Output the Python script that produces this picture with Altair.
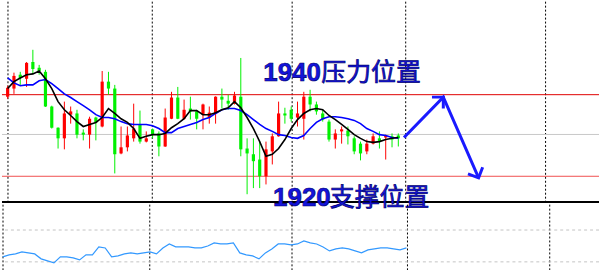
import altair as alt
import numpy as np
import pandas as pd

# ---------------- data ----------------
opens = [1939.5, 1941.5, 1944.9, 1943.9, 1948.0, 1946.6, 1945.6, 1937.1, 1931.9, 1929.3,
         1935.1, 1935.4, 1930.7, 1930.2, 1934.4, 1932.2, 1943.2, 1941.5, 1925.6, 1927.1,
         1929.3, 1932.7, 1928.5, 1931.5, 1930.5, 1927.3, 1934.1, 1939.3, 1934.1, 1936.6,
         1935.9, 1935.1, 1934.4, 1935.4, 1939.5, 1938.5, 1937.8, 1939.5, 1926.8, 1925.4,
         1924.1, 1920.0, 1926.1, 1929.8, 1935.4, 1936.3, 1934.4, 1934.1, 1939.5, 1937.6,
         1935.4, 1933.4, 1929.0, 1931.0, 1931.2, 1929.3, 1928.0, 1926.1, 1928.0, 1929.3,
         1929.5, 1929.8, 1930.0]
highs = [1942.2, 1945.4, 1945.6, 1948.0, 1951.0, 1947.3, 1946.1, 1937.3, 1932.0, 1938.3,
         1937.1, 1936.3, 1931.5, 1934.6, 1934.6, 1945.8, 1945.6, 1942.4, 1932.2, 1932.2,
         1937.8, 1936.1, 1931.0, 1931.7, 1931.0, 1936.6, 1940.7, 1941.9, 1938.8, 1939.5,
         1936.3, 1937.8, 1937.1, 1939.6, 1941.5, 1940.0, 1940.7, 1949.0, 1929.3, 1929.3,
         1928.5, 1928.5, 1930.5, 1938.3, 1936.8, 1937.1, 1938.3, 1940.7, 1941.2, 1938.3,
         1936.3, 1933.9, 1931.5, 1932.2, 1932.2, 1929.8, 1928.5, 1929.0, 1930.5, 1931.0,
         1930.2, 1930.5, 1930.5]
lows = [1939.0, 1940.2, 1942.4, 1941.9, 1945.1, 1944.9, 1937.0, 1931.7, 1926.8, 1926.6,
        1932.9, 1929.3, 1928.8, 1926.8, 1928.8, 1932.0, 1940.0, 1920.7, 1925.4, 1926.1,
        1928.5, 1928.0, 1928.3, 1929.3, 1924.9, 1927.2, 1934.0, 1934.0, 1933.9, 1933.9,
        1931.5, 1931.5, 1932.9, 1932.9, 1936.6, 1936.3, 1937.6, 1924.9, 1915.6, 1917.1,
        1917.1, 1918.0, 1922.9, 1929.7, 1932.9, 1933.4, 1932.2, 1929.0, 1935.9, 1935.1,
        1933.4, 1928.5, 1926.8, 1928.0, 1927.8, 1925.4, 1923.9, 1925.4, 1927.8, 1926.8,
        1924.1, 1927.1, 1927.3]
closes = [1941.7, 1944.6, 1944.1, 1947.8, 1946.3, 1945.8, 1937.1, 1931.9, 1929.3, 1935.4,
          1935.9, 1930.2, 1930.2, 1934.1, 1933.2, 1943.2, 1941.5, 1925.4, 1927.1, 1930.0,
          1931.7, 1928.5, 1929.3, 1930.2, 1927.3, 1934.4, 1939.3, 1934.1, 1936.3, 1935.9,
          1934.1, 1937.6, 1935.6, 1939.5, 1938.8, 1937.8, 1939.8, 1926.6, 1925.6, 1923.7,
          1920.0, 1926.6, 1929.8, 1935.4, 1934.9, 1934.1, 1935.4, 1939.5, 1937.6, 1935.9,
          1933.9, 1929.0, 1930.5, 1931.5, 1929.8, 1926.1, 1925.6, 1928.0, 1929.8, 1928.5,
          1930.0, 1929.0, 1929.3]
ma_fast = [1941.5, 1943.2, 1944.1, 1944.9, 1945.1, 1945.8, 1943.9, 1941.5, 1938.3, 1936.3,
           1934.9, 1933.4, 1932.2, 1932.7, 1933.2, 1934.4, 1936.6, 1935.4, 1934.1, 1933.2,
           1931.7, 1929.3, 1929.8, 1930.2, 1930.2, 1930.5, 1931.9, 1932.9, 1934.1, 1936.1,
           1936.1, 1935.1, 1935.1, 1935.6, 1936.3, 1936.8, 1938.3, 1936.8, 1934.4, 1931.7,
           1928.5, 1924.9, 1925.4, 1926.8, 1929.0, 1931.7, 1933.9, 1935.4, 1936.3, 1936.6,
           1936.3, 1934.9, 1933.9, 1932.7, 1931.5, 1930.2, 1929.3, 1928.5, 1928.3, 1928.5,
           1929.0, 1929.3, 1929.5]
ma_slow = [1944.1, 1942.9, 1942.2, 1942.4, 1942.4, 1943.4, 1943.7, 1942.7, 1941.5, 1940.2,
           1939.3, 1938.3, 1937.3, 1936.3, 1935.1, 1934.4, 1934.4, 1934.1, 1933.4, 1932.9,
           1932.7, 1932.7, 1932.7, 1932.4, 1931.7, 1930.7, 1930.7, 1931.7, 1932.2, 1932.7,
           1933.2, 1933.9, 1934.4, 1935.4, 1936.3, 1936.6, 1936.6, 1936.1, 1935.1, 1933.9,
           1932.7, 1931.7, 1931.0, 1930.2, 1930.0, 1929.5, 1929.3, 1930.0, 1931.7, 1933.2,
           1934.1, 1934.6, 1934.6, 1934.4, 1934.1, 1933.7, 1932.9, 1931.7, 1931.0, 1930.2,
           1930.0, 1929.5, 1929.3]
osc = [36.3, 38.8, 40.0, 42.5, 41.3, 40.0, 33.8, 31.3, 28.8, 36.3,
       36.3, 35.0, 32.5, 38.8, 38.8, 48.8, 47.5, 36.3, 37.5, 40.0,
       41.3, 40.0, 41.3, 42.5, 40.0, 47.5, 52.5, 48.8, 48.8, 48.8,
       47.5, 47.5, 50.0, 53.8, 52.5, 52.5, 53.8, 41.3, 38.8, 37.5,
       33.8, 41.3, 46.3, 52.5, 52.5, 51.3, 52.5, 56.3, 53.8, 52.5,
       48.8, 43.8, 46.3, 47.5, 46.3, 43.8, 41.3, 45.0, 46.3, 47.5,
       47.5, 46.3, 45.0, 47.5]

resistance = 1940.0
support = 1920.0
mid_level = 1930.25
osc_levels = [70, 30]
grid_idx = [0.05, 22.95, 45.15, 63.17, 85.37]

label_digits = ["1940", "1920"]
label_cjk = ["压力位置", "支撑位置"]
label_digit_x = [40.57, 42.13]
label_cjk_x = [49.78, 51.13]
label_y = [1943.4, 1912.75]

arrow_x = [62.9, 69.14, 74.74]
arrow_y = [1929.5, 1939.4, 1919.6]
arrow_head_angle = [45, 156]

X_DOMAIN = [-0.11, 93.06]
Y_DOMAIN = [1913.53, 1962.80]
OSC_DOMAIN = [19.375, 101.875]

# ---------------- frames ----------------
n = len(opens)
o = np.array(opens); c = np.array(closes)
body_lo = np.minimum(o, c)
body_hi = np.maximum(o, c)
body_hi = np.where(body_hi - body_lo < 0.3, body_lo + 0.3, body_hi)
candles = pd.DataFrame({
    "idx": np.arange(n), "open": o, "high": highs, "low": lows, "close": c,
    "body_lo": body_lo, "body_hi": body_hi,
    "dir": np.where(c >= o, "up", "down"),
    "ma_fast": ma_fast, "ma_slow": ma_slow,
})
osc_df = pd.DataFrame({"idx": np.arange(len(osc)), "v": osc})
grid_df = pd.DataFrame({"g": grid_idx})

xs = alt.Scale(domain=X_DOMAIN, nice=False, zero=False)
ys = alt.Scale(domain=Y_DOMAIN, nice=False, zero=False)
os_ = alt.Scale(domain=OSC_DOMAIN, nice=False, zero=False)
cscale = alt.Scale(domain=["up", "down"], range=["#ff0000", "#00f000"])

X = alt.X("idx:Q", scale=xs, axis=None)

grid_top = alt.Chart(grid_df).mark_rule(color="#000000", strokeWidth=1, strokeDash=[2, 2]).encode(
    x=alt.X("g:Q", scale=xs, axis=None))


def hline(level, color, width=1.0, dash=None):
    kw = dict(color=color, strokeWidth=width)
    if dash:
        kw["strokeDash"] = dash
    return alt.Chart(pd.DataFrame({"y": [level]})).mark_rule(**kw).encode(
        y=alt.Y("y:Q", scale=ys, axis=None))


h_res = hline(resistance, "#e00000")
h_mid = hline(mid_level, "#c8c8c8")
h_sup = hline(support, "#f05050")
h_bot = hline(Y_DOMAIN[0] + 0.15, "#000000", 2.0)

wicks = alt.Chart(candles).mark_rule(strokeWidth=1).encode(
    x=X, y=alt.Y("low:Q", scale=ys, axis=None), y2="high:Q",
    color=alt.Color("dir:N", scale=cscale, legend=None))
bodies = alt.Chart(candles).mark_bar(size=3.2, orient="vertical").encode(
    x=X, y=alt.Y("body_lo:Q", scale=ys, axis=None), y2="body_hi:Q",
    color=alt.Color("dir:N", scale=cscale, legend=None))
fast = alt.Chart(candles).mark_line(color="#000000", strokeWidth=1.6).encode(
    x=X, y=alt.Y("ma_fast:Q", scale=ys, axis=None))
slow = alt.Chart(candles).mark_line(color="#0000ff", strokeWidth=1.6).encode(
    x=X, y=alt.Y("ma_slow:Q", scale=ys, axis=None))

dig_df = pd.DataFrame({"x": label_digit_x, "y": label_y, "t": label_digits})
cjk_df = pd.DataFrame({"x": label_cjk_x, "y": label_y, "t": label_cjk})
txt_digits = alt.Chart(dig_df).mark_text(
    align="left", baseline="alphabetic", font="Liberation Sans", fontSize=26,
    fontWeight="bold", color="#1414dc", stroke="#00006e", strokeWidth=0.6).encode(
    x=alt.X("x:Q", scale=xs, axis=None), y=alt.Y("y:Q", scale=ys, axis=None), text="t:N")
txt_cjk = alt.Chart(cjk_df).mark_text(
    align="left", baseline="alphabetic", font="Noto Sans CJK SC", fontSize=25,
    fontWeight="normal", color="#1414dc", stroke="#00006e", strokeWidth=0.7).encode(
    x=alt.X("x:Q", scale=xs, axis=None), y=alt.Y("y:Q", scale=ys, axis=None), text="t:N")

arrow_df = pd.DataFrame({"x": arrow_x, "y": arrow_y, "o": range(len(arrow_x))})
arrow_line = alt.Chart(arrow_df).mark_line(color="#1a1aff", strokeWidth=3).encode(
    x=alt.X("x:Q", scale=xs, axis=None), y=alt.Y("y:Q", scale=ys, axis=None), order="o:Q")
head_df = pd.DataFrame({"x": arrow_x[1:], "y": arrow_y[1:], "a": arrow_head_angle})
arrow_heads = alt.Chart(head_df).mark_point(
    shape="M-1,1L0,0L1,1", filled=False, strokeWidth=3, size=260,
    color="#1a1aff", opacity=1).encode(
    x=alt.X("x:Q", scale=xs, axis=None), y=alt.Y("y:Q", scale=ys, axis=None),
    angle=alt.Angle("a:Q", scale=None))

top = alt.layer(grid_top, h_mid, h_res, h_sup, wicks, bodies, slow, fast,
                h_bot, txt_digits, txt_cjk, arrow_line, arrow_heads).properties(width=600, height=202)

# lower panel
grid_bot = alt.Chart(grid_df).mark_rule(color="#000000", strokeWidth=1, strokeDash=[2, 2]).encode(
    x=alt.X("g:Q", scale=xs, axis=None))
lv = alt.Chart(pd.DataFrame({"y": osc_levels})).mark_rule(
    color="#c4c4c4", strokeWidth=1, strokeDash=[3, 3]).encode(y=alt.Y("y:Q", scale=os_, axis=None))
osc_line = alt.Chart(osc_df).mark_line(color="#3399ff", strokeWidth=1.2).encode(
    x=X, y=alt.Y("v:Q", scale=os_, axis=None))
bottom = alt.layer(grid_bot, lv, osc_line).properties(width=600, height=66)

chart = alt.vconcat(top, bottom, spacing=2, bounds="flush").properties(
    padding=0, background="white").configure_view(stroke=None)

chart.save("out.html", embed_options={"renderer": "svg", "actions": False})
